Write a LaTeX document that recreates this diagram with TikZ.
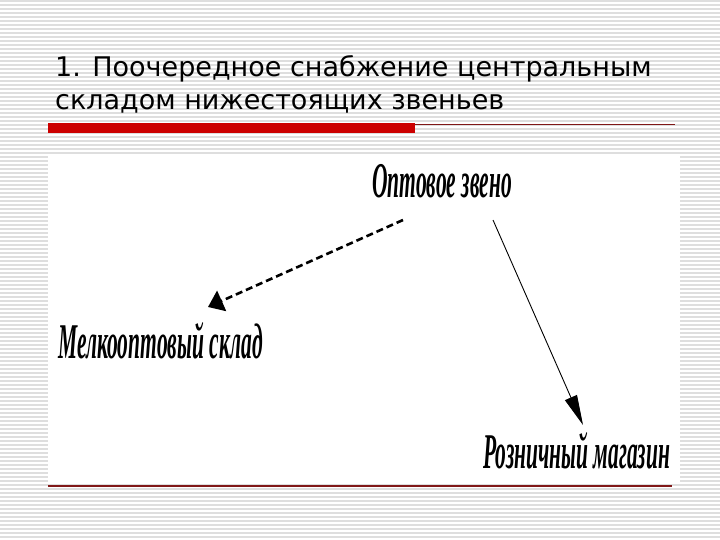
\documentclass[tikz,border=0pt]{standalone}
\usepackage{fontspec}
\setmainfont{DejaVu Sans}
\newfontfamily\levelfont[FakeStretch=0.43]{Liberation Serif}
\usetikzlibrary{positioning,arrows.meta}
\definecolor{barred}{RGB}{204,0,0}
\definecolor{linered}{RGB}{128,24,24}

\begin{document}
\begin{tikzpicture}[x=1pt,y=-1pt,
    stripe/.style={line width=1.4pt,black!13},
    title/.style={anchor=base west,inner sep=0pt,font=\fontsize{27}{32}\selectfont},
    level/.style={anchor=base west,inner sep=0pt,
      font=\levelfont\bfseries\itshape\fontsize{50}{50}\selectfont},
    dasharrow/.style={line width=2.6pt,dash pattern=on 7pt off 4pt,
      -{Triangle[length=15pt,width=22pt]}},
    thinarrow/.style={line width=0.9pt,-{Triangle[length=30pt,width=13pt]}}]
  \fill[white] (0,0) rectangle (720,540);
  \useasboundingbox (0,0) rectangle (720,540);
  \foreach \y in {1,5,...,537}
    \draw[stripe] (0,\y) -- (720,\y);

  \node[title] (head1) at (55,77) {1. Поочередное снабжение центральным};
  \node[title] (head2) at (55,110) {складом нижестоящих звеньев};
  \fill[barred] (48,123) rectangle (415,133);
  \draw[linered,line width=1.2pt] (415,124.5) -- (675,124.5);

  \fill[white] (48,156) rectangle (680,483);
  \draw[linered,line width=1.2pt] (48,486) -- (672,486);

  \node[level] (opt) at (372,197) {Оптовое звено};
  \node[level] (melk) at (58,358) {Мелкооптовый склад};
  \node[level] (rozn) at (483,468) {Розничный магазин};

  \coordinate (optL) at ([shift={(31,23)}]opt.base west);
  \coordinate (optR) at ([shift={(121,23)}]opt.base west);
  \coordinate (melkTop) at ([shift={(150,-51)}]melk.base west);
  \coordinate (roznTop) at ([shift={(100,-43)}]rozn.base west);
  \draw[dasharrow] (optL) -- (melkTop);
  \draw[thinarrow] (optR) -- (roznTop);
\end{tikzpicture}
\end{document}
